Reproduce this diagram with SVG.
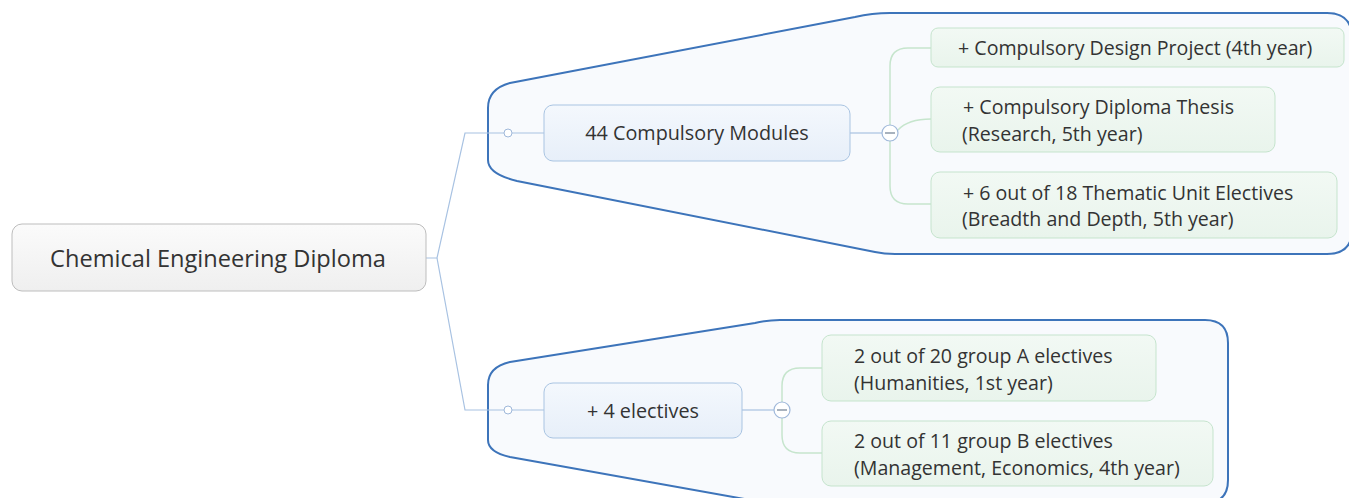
<svg xmlns="http://www.w3.org/2000/svg" width="1349" height="498" viewBox="0 0 1349 498">
<defs>
<linearGradient id="gRoot" x1="0" y1="0" x2="0" y2="1"><stop offset="0" stop-color="#fbfbfb"/><stop offset="1" stop-color="#efefef"/></linearGradient>
<linearGradient id="gBlue" x1="0" y1="0" x2="0" y2="1"><stop offset="0" stop-color="#f4f8fd"/><stop offset="1" stop-color="#e7eff9"/></linearGradient>
<linearGradient id="gGreen" x1="0" y1="0" x2="0" y2="1"><stop offset="0" stop-color="#f2f9f4"/><stop offset="1" stop-color="#e9f4ec"/></linearGradient>
</defs>
<style>
.bound{fill:#f8fafd;stroke:#3d74ba;stroke-width:2}
.root{fill:url(#gRoot);stroke:#bdbdbd;stroke-width:1}
.blue{fill:url(#gBlue);stroke:#a9c4e2;stroke-width:1}
.green{fill:url(#gGreen);stroke:#c5e4cd;stroke-width:1}
.lb{fill:none;stroke:#a8c2e2;stroke-width:1.2}
.lg{fill:none;stroke:#c6e5cd;stroke-width:1.5}
.dot{fill:#ffffff;stroke:#9fb8da;stroke-width:1}
.col{fill:#ffffff;stroke:#9fb8da;stroke-width:1.2}
.minus{stroke:#6f7f93;stroke-width:1.2}
text{font-family:"Open Sans","Noto Sans","DejaVu Sans",sans-serif;fill:#333333}
.t22{font-size:23.6px}
.t19{font-size:19.8px}
.t18{font-size:19.6px}
</style>
<path class="bound" d="M 488 160 L 488 108 Q 488 89 510 83 L 855 17 Q 872 13 890 13 L 1327 13 Q 1352 13 1352 38 L 1352 230 Q 1352 254 1327 254 L 895 254 Q 884 254 875 252 L 517 181 Q 488 174 488 160 Z"/>
<path class="bound" d="M 488 440 L 488 385 Q 488 367 510 362 L 755 323 Q 768 320 780 320 L 1205 320 Q 1228 320 1228 343 L 1228 480 Q 1228 503 1205 503 L 770 503 Q 760 503 750 500 L 510 457 Q 488 452 488 440 Z"/>
<g id="connectors">
<path class="lb" d="M 426 258 L 437 258 L 465 133 L 544 133"/>
<path class="lb" d="M 437 258 L 465 410 L 544 410"/>
<path class="lb" d="M 850 133 L 882 133"/>
<path class="lb" d="M 742 410 L 774 410"/>
<path class="lg" d="M 890 125 L 890 66 Q 890 48 908 48 L 931 48"/>
<path class="lg" d="M 898 130 Q 908 119 931 119"/>
<path class="lg" d="M 890 141 L 890 186 Q 890 204 908 204 L 931 204"/>
<path class="lg" d="M 782 402 L 782 386 Q 782 368 800 368 L 822 368"/>
<path class="lg" d="M 782 418 L 782 435 Q 782 453 800 453 L 822 453"/>
<circle class="dot" cx="508" cy="133" r="4"/>
<circle class="dot" cx="508" cy="410" r="4"/>
<circle class="col" cx="890" cy="133" r="8"/>
<line class="minus" x1="885" y1="133" x2="895" y2="133"/>
<circle class="col" cx="782" cy="410" r="8"/>
<line class="minus" x1="777" y1="410" x2="787" y2="410"/>
</g>
<g id="root">
<rect class="root" x="12" y="224" width="414" height="67" rx="10"/>
<text class="t22" x="218" y="267" text-anchor="middle">Chemical Engineering Diploma</text>
</g>
<g id="compulsory">
<rect class="blue" x="544" y="105" width="306" height="56" rx="9"/>
<text class="t19" x="697" y="140" text-anchor="middle">44 Compulsory Modules</text>
</g>
<g id="design">
<rect class="green" x="931" y="28" width="413" height="39" rx="7"/>
<text class="t18" x="958" y="55">+ Compulsory Design Project (4th year)</text>
</g>
<g id="thesis">
<rect class="green" x="931" y="87" width="344" height="65" rx="9"/>
<text class="t18" x="963" y="114">+ Compulsory Diploma Thesis</text>
<text class="t18" x="962" y="141">(Research, 5th year)</text>
</g>
<g id="thematic">
<rect class="green" x="931" y="172" width="406" height="66" rx="9"/>
<text class="t18" x="963" y="200">+ 6 out of 18 Thematic Unit Electives</text>
<text class="t18" x="962" y="226">(Breadth and Depth, 5th year)</text>
</g>
<g id="electives">
<rect class="blue" x="544" y="383" width="198" height="55" rx="9"/>
<text class="t19" x="643" y="418" text-anchor="middle">+ 4 electives</text>
</g>
<g id="groupA">
<rect class="green" x="822" y="335" width="334" height="66" rx="9"/>
<text class="t18" x="854" y="363">2 out of 20 group A electives</text>
<text class="t18" x="854" y="390">(Humanities, 1st year)</text>
</g>
<g id="groupB">
<rect class="green" x="822" y="421" width="391" height="65" rx="9"/>
<text class="t18" x="854" y="448">2 out of 11 group B electives</text>
<text class="t18" x="854" y="475">(Management, Economics, 4th year)</text>
</g>
</svg>
